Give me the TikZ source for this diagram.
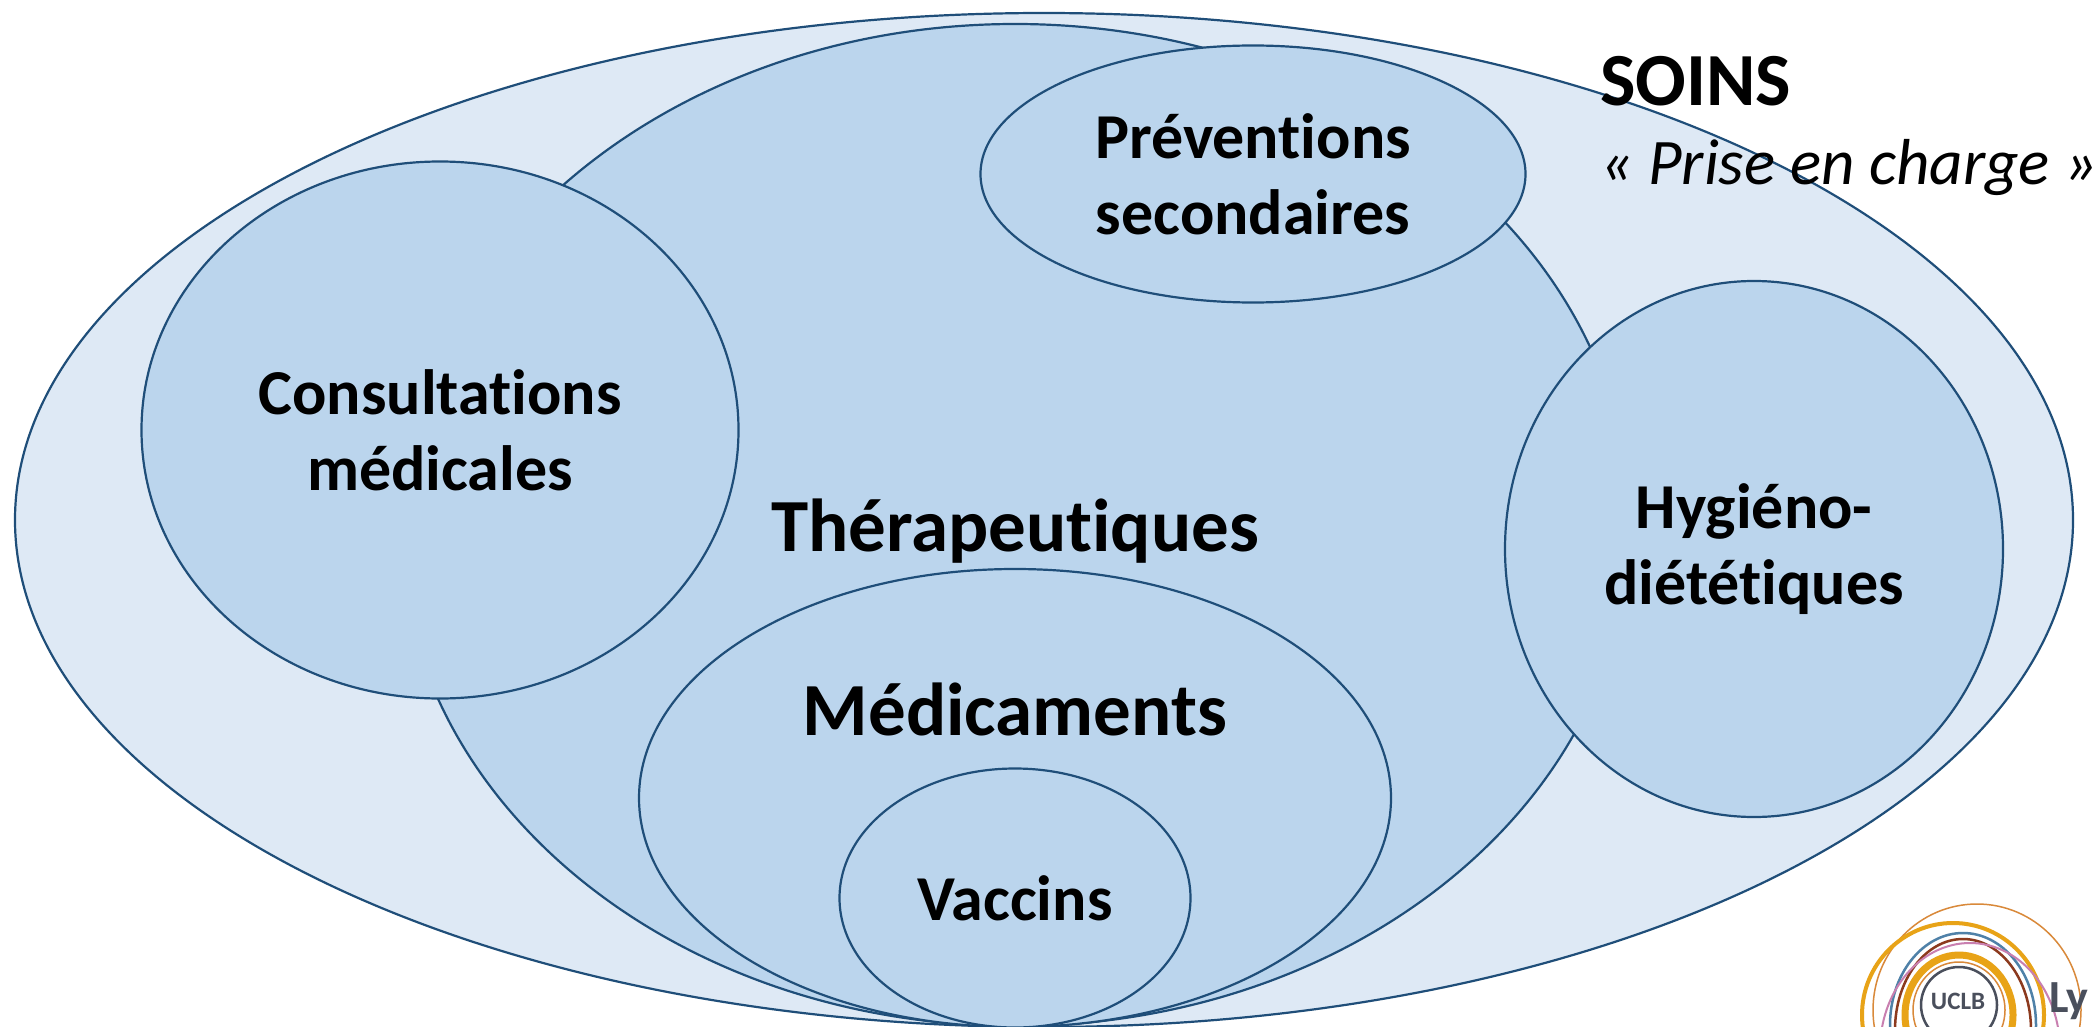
\documentclass[tikz,border=0pt]{standalone}
\usepackage{fontspec}
\setmainfont[Ligatures=NoCommon]{Carlito}
\usetikzlibrary{shapes.geometric}
\definecolor{outerfill}{HTML}{DEE9F5}
\definecolor{innerfill}{HTML}{BBD5ED}
\definecolor{edgeblue}{HTML}{1F4E79}
\definecolor{logogrey}{HTML}{4A4F5C}
\definecolor{logogold}{HTML}{E8A317}
\definecolor{logoblue}{HTML}{4F81A8}
\definecolor{logobrown}{HTML}{8C3A1E}
\definecolor{logopink}{HTML}{C97FB0}
\definecolor{logoorange}{HTML}{D9893A}
\tikzset{
  blob/.style={ellipse,draw=edgeblue,line width=2.2pt,fill=innerfill,inner sep=0pt,align=center,font=\fontsize{64}{76}\selectfont\bfseries},
  big/.style={font=\fontsize{75}{80}\selectfont\bfseries,inner sep=0pt},
  ring/.style={line width=#1,fill=none}
}
\begin{document}
\begin{tikzpicture}[x=1pt,y=-1pt]
\useasboundingbox (0,0) rectangle (2096,1027);
\clip (0,0) rectangle (2096,1027);
\fill[white] (0,0) rectangle (2096,1027);
\node[blob,fill=outerfill,minimum width=2058pt,minimum height=1014pt] (soins) at (1044,520) {};
\node[blob,minimum width=1230pt,minimum height=1002pt] (thera) at (1015,525) {};
\node[blob,minimum width=545pt,minimum height=257pt] (prev) at (1253,174) {Préventions\\secondaires};
\node[blob,minimum width=597pt,minimum height=537pt] (cons) at (440,430) {Consultations\\médicales};
\node[blob,minimum width=498pt,minimum height=536pt] (hyg) at (1754,549) {Hygiéno-\\diététiques};
\node[blob,minimum width=752pt,minimum height=458pt] (med) at (1015,798) {};
\node[blob,minimum width=351pt,minimum height=259pt] (vac) at (1015,898) {Vaccins};
\node[big] (theratext) at (1015,531) {Thérapeutiques};
\node[big] (medtext) at (1015,709) {Médicaments};
\node[anchor=west,inner sep=0pt,font=\fontsize{75}{80}\selectfont\bfseries] (soinstext) at (1600,81) {SOINS};
\node[anchor=west,inner sep=0pt,font=\fontsize{65}{70}\selectfont\itshape] (prise) at (1600,168) {« Prise en charge »};
% logo
\draw[logoorange,ring=1.5pt] (1977,1010) ellipse (104 and 106);
\draw[logogold,ring=4pt] (1953,1015) ellipse (91 and 92);
\draw[logoblue,ring=2.5pt] (1963,1025) ellipse (73 and 92);
\draw[logobrown,ring=2.5pt] (1963,1030) ellipse (68 and 91);
\draw[logopink,ring=2pt] (1970,1050) ellipse (90 and 107);
\draw[logogold,ring=7pt] (1959,1015) ellipse (54 and 60);
\draw[logoorange,ring=1.5pt] (1959,1010) ellipse (46 and 48);
\draw[logogrey,ring=2.5pt] (1959,1005) ellipse (38 and 38);
\node[inner sep=0pt,text=logogrey,font=\fontsize{25}{25}\selectfont\bfseries] (uclb) at (1958,1001) {UCLB};
\node[anchor=base west,inner sep=0pt,text=logogrey,font=\fontsize{46}{46}\selectfont\bfseries] (ly) at (2049,1012) {Ly};
\end{tikzpicture}
\end{document}
